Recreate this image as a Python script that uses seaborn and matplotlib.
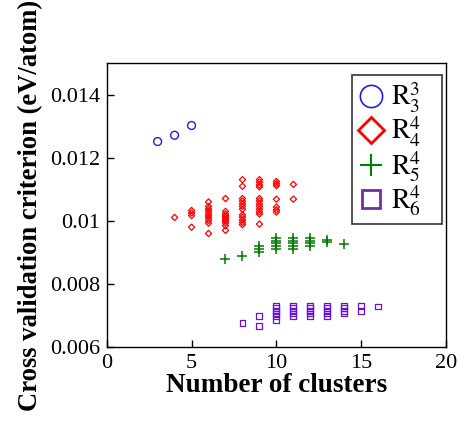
import pandas as pd
import seaborn as sns
import matplotlib
matplotlib.use("Agg")
import matplotlib.pyplot as plt
from matplotlib.lines import Line2D

# Cross validation data
r33_x = [3, 4, 5]
r33_y = [0.01252, 0.01272, 0.01303]

r44_x = [4,
         5, 5, 5, 5,
         6, 6, 6, 6, 6, 6, 6, 6, 6, 6,
         7, 7, 7, 7, 7, 7, 7, 7, 7, 7,
         8, 8, 8, 8, 8, 8, 8, 8, 8, 8, 8, 8,
         9, 9, 9, 9, 9, 9, 9, 9, 9, 9, 9, 9,
         10, 10, 10, 10, 10, 10, 10,
         11, 11]
r44_y = [0.01011,
         0.01033, 0.01025, 0.01017, 0.00980,
         0.01060, 0.01046, 0.01038, 0.01031, 0.01023, 0.01016, 0.01009, 0.01001, 0.00993, 0.00960,
         0.01071, 0.01030, 0.01022, 0.01016, 0.01011, 0.01005, 0.01000, 0.00993, 0.00985, 0.00970,
         0.01131, 0.01110, 0.01071, 0.01063, 0.01054, 0.01046, 0.01037, 0.01019, 0.01012, 0.01003, 0.00995, 0.00988,
         0.01131, 0.01123, 0.01114, 0.01108, 0.01071, 0.01063, 0.01054, 0.01046, 0.01037, 0.01029, 0.01022, 0.00990,
         0.01125, 0.01118, 0.01112, 0.01069, 0.01044, 0.01035, 0.01028,
         0.01116, 0.01069]

r54_x = [7, 8, 9, 9, 9,
         10, 10, 10, 10, 10,
         11, 11, 11, 11, 11,
         12, 12, 12, 12,
         13, 13, 14]
r54_y = [0.00880, 0.00890, 0.00920, 0.00910, 0.00900,
         0.00945, 0.00937, 0.00929, 0.00920, 0.00910,
         0.00945, 0.00937, 0.00929, 0.00920, 0.00911,
         0.00945, 0.00937, 0.00929, 0.00920,
         0.00938, 0.00932, 0.00927]

r64_x = [8, 9, 9,
         10, 10, 10, 10, 10, 10,
         11, 11, 11, 11, 11,
         12, 12, 12, 12, 12,
         13, 13, 13, 13, 13,
         14, 14, 14, 14,
         15, 15, 16]
r64_y = [0.00677, 0.00697, 0.00667,
         0.00731, 0.00723, 0.00714, 0.00706, 0.00697, 0.00684,
         0.00731, 0.00723, 0.00714, 0.00706, 0.00697,
         0.00731, 0.00723, 0.00714, 0.00706, 0.00697,
         0.00731, 0.00723, 0.00714, 0.00706, 0.00697,
         0.00731, 0.00723, 0.00714, 0.00706,
         0.00729, 0.00714, 0.00728]

labels = [r'$\mathrm{R}_3^3$', r'$\mathrm{R}_4^4$', r'$\mathrm{R}_5^4$', r'$\mathrm{R}_6^4$']

sns.set_style("ticks")
plt.rcParams['font.family'] = ['Liberation Serif', 'DejaVu Serif']
plt.rcParams['mathtext.fontset'] = 'stix'
plt.rcParams['text.color'] = 'black'
plt.rcParams['axes.labelcolor'] = 'black'
plt.rcParams['xtick.color'] = 'black'
plt.rcParams['ytick.color'] = 'black'

fig = plt.figure(figsize=(4.58, 4.23), dpi=100)
ax = fig.add_axes([0.233, 0.180, 0.741, 0.670])

# (x, y, colour, marker, size, width)
series = [
    (r33_x, r33_y, '#2020e0', 'o', 32, 1.0),
    (r44_x, r44_y, '#ff0000', 'D', 10, 0.9),
    (r54_x, r54_y, '#007a00', '+', 42, 1.1),
    (r64_x, r64_y, '#6a10d8', 's', 18, 0.9),
]

for x, y, c, m, s, lw in series:
    df = pd.DataFrame({'n': x, 'cv': y})
    if m == '+':
        sns.scatterplot(data=df, x='n', y='cv', marker=m, s=s, color=c,
                        linewidth=lw, ax=ax, legend=False)
    else:
        sns.scatterplot(data=df, x='n', y='cv', marker=m, s=s,
                        facecolor='none', edgecolor=c, linewidth=lw,
                        ax=ax, legend=False)

ax.set_xlim(0, 20)
ax.set_ylim(0.006, 0.015)
ax.set_xticks([0, 5, 10, 15, 20])
ax.set_yticks([0.006, 0.008, 0.01, 0.012, 0.014])
ax.set_yticklabels(['0.006', '0.008', '0.01', '0.012', '0.014'])
ax.tick_params(direction='in', length=5, width=1, labelsize=16, pad=5,
               top=False, right=False)
for sp in ax.spines.values():
    sp.set_linewidth(1)
    sp.set_color('black')

ax.set_xlabel('Number of clusters', fontsize=19.5, fontweight='bold', labelpad=0)
ax.set_ylabel('Cross validation criterion (eV/atom)', fontsize=19.2,
              fontweight='bold', labelpad=5)

handles = [
    Line2D([], [], ls='none', marker='o', ms=16, mfc='none', mec='#2020e0', mew=1.2),
    Line2D([], [], ls='none', marker='D', ms=13, mfc='none', mec='#ff0000', mew=2),
    Line2D([], [], ls='none', marker='+', ms=16, mec='#008000', mew=1.5),
    Line2D([], [], ls='none', marker='s', ms=13, mfc='none', mec='#7030a0', mew=2),
]
# trailing spaces leave the empty room on the right of the legend box
leg = ax.legend(handles, [lab + '   ' for lab in labels], loc='upper right',
                fontsize=20, bbox_to_anchor=(0.988, 0.959), borderaxespad=0,
                frameon=True, fancybox=False, handlelength=1.0,
                handletextpad=0.2, borderpad=0.2, labelspacing=0.0)
leg.get_frame().set_edgecolor('black')
leg.get_frame().set_linewidth(1.2)

fig.savefig('out.png', dpi=100)
